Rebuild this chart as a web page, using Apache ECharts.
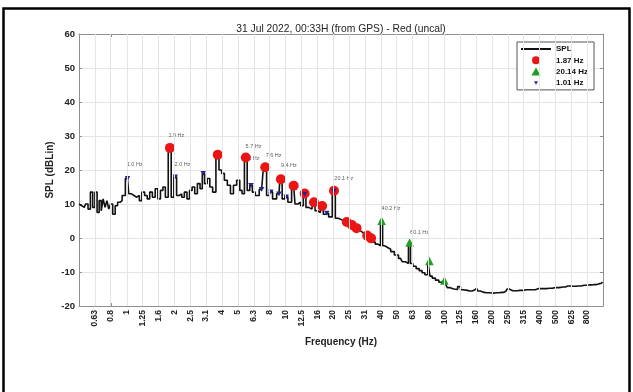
<!DOCTYPE html>
<html><head><meta charset="utf-8">
<script src="https://cdn.jsdelivr.net/npm/echarts@6/dist/echarts.min.js"></script>
<style>html,body{margin:0;padding:0;background:#fff}#c{width:633px;height:392px}</style>
</head><body><div id="c"></div>
<script>
// ---- data ----
const tickValues = [0.631,0.794,1,1.259,1.585,1.995,2.512,3.162,3.981,5.012,6.310,7.943,10,12.59,15.85,19.95,25.12,31.62,39.81,50.12,63.10,79.43,100,125.9,158.5,199.5,251.2,316.2,398.1,501.2,631.0,794.3];
const tickLabels = ['0.63','0.8','1','1.25','1.6','2','2.5','3.1','4','5','6.3','8','10','12.5','16','20','25','31','40','50','63','80','100','125','160','200','250','315','400','500','625','800'];

const splFreq = [0.50,0.52,0.54,0.56,0.58,0.60,0.62,0.64,0.66,0.68,0.70,0.72,0.74,0.76,0.78,0.80,0.83,0.86,0.89,0.92,0.95,1.01,1.05,1.09,1.13,1.18,1.22,1.27,1.32,1.37,1.42,1.48,1.54,1.60,1.66,1.72,1.78,1.87,1.94,2.02,2.10,2.18,2.26,2.35,2.44,2.53,2.63,2.73,2.84,2.95,3.03,3.15,3.27,3.40,3.55,3.74,3.88,4.04,4.2,4.4,4.6,4.8,5.05,5.25,5.4,5.62,5.85,6.06,6.3,6.6,7.07,7.45,7.75,8.08,8.5,9.09,9.35,9.7,10.1,10.6,11.25,11.7,12.2,12.7,13.2,13.7,14.3,15.1,15.6,16.2,17.0,17.6,18.2,19.2,20.2,21,22,23,24.3,25,26.2,27,28,29,30,31,32.7,33.5,34.6,36,37.5,39,40.3,41.5,43,45,47,50,53,56,58.5,60.5,62,65,68,71,74,77,80.6,82,86,90,95,97,100.2,103,106,112,118,125,128,135,145,155,160,165,172,185,200,215,230,245,252,260,280,300,330,360,390,420,460,500,560,600,650,700,760,820,880,940,980,1000];
const splValue = [10,9.5,9,10,8.5,13.5,9,13.5,7.5,11,8,11.5,9,11,8.5,10,7,9.5,10.5,11,12.5,17.5,13,12.5,12,12.5,11,13.5,12.5,11.5,13.5,12,14.5,11.5,14,15,12,26.5,12,18,12.5,13,12,13.5,11.5,14,15,13,16,14.5,19,16,17.5,15,13.5,24.5,20,19,17,15.5,13,15.5,17,14,13,23.7,14,15.5,13.5,12.5,14.3,20.8,12.5,13.6,11.5,13,17.3,11.5,12.1,10.5,15.4,10,10.5,9.5,13.1,9,8.5,10.5,8,7.5,9.4,7,7.3,6.2,13.9,5.8,5.4,5.0,4.7,4.3,3.8,3.3,2.9,2.2,1.7,1.2,0.7,0.2,-0.1,-1.2,-1.8,-2.3,5.1,-2.3,-2.8,-3.3,-4.0,-5.0,-6.0,-7.0,-7.5,-1.3,-7.5,-8.3,-9.0,-9.6,-10.2,-10.8,-6.8,-11.2,-11.8,-12.4,-13.0,-13.2,-12.5,-13.5,-14.6,-15.0,-15.1,-14.3,-15.2,-15.4,-15.6,-15.3,-14.8,-15.6,-16.0,-16.1,-16.2,-16.1,-16.0,-15.6,-15.0,-15.5,-15.5,-15.4,-15.2,-15.2,-14.9,-14.9,-14.8,-14.6,-14.4,-14.1,-14.2,-14.1,-13.9,-13.8,-13.7,-13.5,-13.3,-12.9];

const redFreq = [1.87,3.74,5.62,7.45,9.35,11.25,13.2,15.1,17.0,20.2,24.3,26.2,28.0,32.7,34.6];
const redValue = [26.5,24.5,23.7,20.8,17.3,15.4,13.1,10.5,9.4,13.9,4.7,3.8,2.9,0.7,-0.1];
const greenFreq = [40.3,60.5,80.6,100.2];
const greenValue = [5.1,-1.3,-6.8,-12.5];
const blueFreq = [1.01,2.02,3.03,6.06,7.07,8.08,9.09,10.1,13.2,18.2,20.2];
const blueValue = [17.5,18,19,15.5,14.3,13.6,13,12.1,12.9,7.3,13.8];

const annFreq = [1.0,1.83,2.0,5.6,5.45,7.5,9.35,20.3,40.3,60.9];
const annValue = [21.5,30.1,21.5,27,23.5,24.2,21.3,17.4,8.7,1.7];
const annText = ['1.0 Hz','1.9 Hz','2.0 Hz','5.7 Hz','5.6 Hz','7.6 Hz','9.4 Hz','20.1 Hz','40.2 Hz','60.1 Hz'];

const titleText = '31 Jul 2022, 00:33H (from GPS) - Red (uncal)';
// ---- chart ----
const pairs = (a, b) => a.map((v, i) => [v, b[i]]);
function labelFor(v) {
  let best = 0, bd = Infinity;
  tickValues.forEach((t, i) => { const d = Math.abs(Math.log(t) - Math.log(v)); if (d < bd) { bd = d; best = i; } });
  return tickLabels[best];
}
const F = 'Liberation Sans, Arial, sans-serif';
const axisGray = '#8f8f8f';
const gridGray = '#e4e4e4';
const upTri = 'path://M0,8.66L5,0L10,8.66Z';
const downTriPadded = 'path://M0,0M20,20M5,5.67L15,5.67L10,14.33Z';
const chart = echarts.init(document.getElementById('c'), null, {renderer: 'canvas'});
chart.setOption({
  animation: false,
  backgroundColor: '#fff',
  title: {text: titleText, left: 336, textAlign: 'center', top: 19,
    textStyle: {fontFamily: F, fontSize: 10.3, fontWeight: 'normal', color: '#222'}},
  graphic: [{type: 'rect', shape: {x: 3.5, y: 8.5, width: 626, height: 400}, style: {fill: 'none', stroke: '#000', lineWidth: 2.5}, silent: true}],
  legend: {
    left: 517, top: 42, orient: 'vertical', backgroundColor: '#fff', borderColor: '#555', borderWidth: 1,
    padding: [3, 6, 3, 3], itemWidth: 30, itemHeight: 8, itemGap: 3.3, symbolKeepAspect: true,
    textStyle: {fontFamily: F, fontSize: 8, fontWeight: 'bold', color: '#111'},
    data: [{name: 'SPL', itemStyle: {opacity: 0}}, '1.87 Hz', '20.14 Hz', '1.01 Hz']
  },
  grid: {left: 79, right: 30, top: 34, bottom: 86},
  xAxis: [{
    type: 'log', logBase: 10, min: 0.5, max: 1000,
    name: 'Frequency (Hz)', nameLocation: 'middle', nameGap: 31,
    nameTextStyle: {fontFamily: F, fontSize: 10, fontWeight: 'bold', color: '#222'},
    axisLine: {onZero: false, lineStyle: {color: axisGray}},
    axisTick: {inside: true, length: 3, lineStyle: {color: axisGray}, customValues: tickValues},
    axisLabel: {customValues: tickValues, rotate: 90, margin: 4, fontFamily: F, fontSize: 8.5, fontWeight: 'bold', color: '#222', formatter: v => labelFor(v)},
    splitLine: {show: false},
    minorTick: {show: false}
  }, {
    type: 'log', logBase: 10, min: 0.5, max: 1000, position: 'top',
    axisLine: {show: true, onZero: false, lineStyle: {color: axisGray}},
    axisTick: {inside: true, length: 3, lineStyle: {color: axisGray}, customValues: tickValues},
    axisLabel: {show: false, customValues: tickValues}, splitLine: {show: false}
  }],
  yAxis: [{
    type: 'value', min: -20, max: 60, interval: 10,
    name: 'SPL (dBLin)', nameLocation: 'middle', nameGap: 24, nameMoveOverlap: false,
    nameTextStyle: {fontFamily: F, fontSize: 10, fontWeight: 'bold', color: '#222'},
    axisLine: {show: true, onZero: false, lineStyle: {color: axisGray}},
    axisTick: {show: true, inside: true, length: 3, lineStyle: {color: axisGray}},
    axisLabel: {margin: 4, fontFamily: F, fontSize: 9.5, fontWeight: 'bold', color: '#222'},
    splitLine: {show: true, lineStyle: {color: gridGray, width: 1}}
  }, {
    type: 'value', min: -20, max: 60, interval: 10, position: 'right',
    axisLine: {show: true, onZero: false, lineStyle: {color: axisGray}},
    axisTick: {show: true, inside: true, length: 3, lineStyle: {color: axisGray}},
    axisLabel: {show: false}, splitLine: {show: false}
  }],
  series: [
    {name: 'annotations', type: 'scatter', symbolSize: 0, data: pairs(annFreq, annValue), z: 1, silent: true,
      label: {show: true, position: 'right', distance: 0, fontFamily: F, fontSize: 5.5, color: '#333',
        formatter: p => annText[p.dataIndex]},
      markLine: {silent: true, symbol: 'none', animation: false, label: {show: false},
        lineStyle: {color: gridGray, type: 'solid', width: 1},
        emphasis: {disabled: true},
        data: tickValues.map(v => ({xAxis: v}))}},
    {name: 'SPL', type: 'line', step: 'middle', symbol: 'none', data: pairs(splFreq, splValue),
      lineStyle: {color: '#111', width: 1.6}, itemStyle: {color: '#111'}, z: 2},
    {name: '1.87 Hz', type: 'scatter', symbol: 'circle', symbolSize: 10, data: pairs(redFreq, redValue),
      itemStyle: {color: '#ec1515', opacity: 1}, z: 3},
    {name: '20.14 Hz', type: 'scatter', symbol: upTri, symbolSize: 8.5, data: pairs(greenFreq, greenValue),
      itemStyle: {color: '#1f9e1f', opacity: 1}, z: 3},
    {name: '1.01 Hz', type: 'scatter', symbol: downTriPadded, symbolSize: 11, data: pairs(blueFreq, blueValue),
      itemStyle: {color: '#23238a', opacity: 1}, z: 4}
  ]
});
</script></body></html>
